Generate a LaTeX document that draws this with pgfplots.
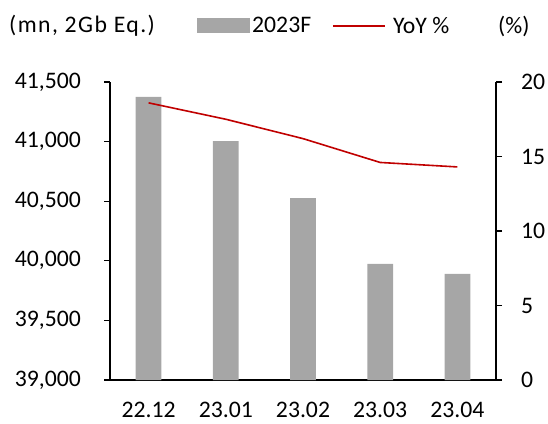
\documentclass[border=0pt]{standalone}
\usepackage{pgfplots}
\pgfplotsset{compat=1.18}
\usepackage{fontspec}
\setmainfont{Carlito}

\definecolor{bargray}{HTML}{A6A6A6}
\definecolor{yoyred}{HTML}{C00000}

% shipments (mn, 2Gb Eq.) and YoY growth (%)
\pgfplotstableread{
x  ship   yoy
0  41375  18.6
1  41005  17.5
2  40525  16.2
3  39975  14.6
4  39890  14.3
}\datatab

\newcommand{\lbl}{\fontsize{23.7}{28}\selectfont}

\begin{document}
\begin{tikzpicture}
\pgfplotsset{
  common/.style={
    at={(110pt,43pt)}, anchor=south west,
    scale only axis, width=386pt, height=298pt,
    xmin=-0.5, xmax=4.5,
    tick align=outside,
    every tick label/.append style={font=\lbl},
    /pgf/number format/assume math mode=true,
    axis line style={line width=1.3pt, black},
    every tick/.style={line width=1.3pt, black},
    major tick length=6pt, minor tick length=6pt,
  }
}
\begin{axis}[
  common,
  axis y line*=left, axis x line*=bottom,
  ymin=39000, ymax=41500, ytick={39000,39500,...,41500},
  yticklabel style={/pgf/number format/.cd, 1000 sep={,}, fixed,
    /tikz/.cd, inner sep=0pt, xshift=-23pt},
  xticklabel style={inner sep=0pt, yshift=-16pt},
  scaled y ticks=false,
  xtick={0,...,4},
  xticklabels={22.12,23.01,23.02,23.03,23.04},
  minor xtick={-0.5,0.5,...,4.5},
  xtick style={draw=none},
  minor tick style={line width=1.3pt, black},
  legend style={draw=none, fill=none, at={(0.2254,1.188)}, anchor=west,
    font=\lbl, inner sep=0pt,
    nodes={inner xsep=2pt, inner ysep=0pt},
    /tikz/every even column/.append style={column sep=19pt}},
  legend columns=2,
  legend cell align=left,
]
\addplot[ybar, bar width=0.333, fill=bargray, draw=none,
  legend image code/.code={\fill[bargray] (0pt,-7.5pt) rectangle (53pt,7.5pt);}]
  table[x=x, y=ship] {\datatab};
\addlegendentry{2023F}
\addlegendimage{legend image code/.code={
  \draw[yoyred, line width=1.6pt] (0pt,0pt) -- (52pt,0pt);
  \path (58pt,0pt);}}
\addlegendentry{YoY \%}
\end{axis}
\begin{axis}[
  common,
  axis y line*=right, axis x line=none,
  ymin=0, ymax=20, ytick={0,5,...,20},
  yticklabel style={inner sep=0pt, xshift=19pt},
]
\addplot[yoyred, line width=1.6pt, mark=none] table[x=x, y=yoy] {\datatab};
\end{axis}
\node[anchor=west, font=\lbl, inner sep=0pt] at (9pt,397pt)
  {\addfontfeature{LetterSpace=6}(mn, 2Gb Eq.)};
\node[anchor=west, font=\lbl, inner sep=0pt] at (498pt,397pt) {(\%)};
\pgfresetboundingbox
\useasboundingbox (0pt,0pt) rectangle (548pt,423pt);
\end{tikzpicture}
\end{document}
